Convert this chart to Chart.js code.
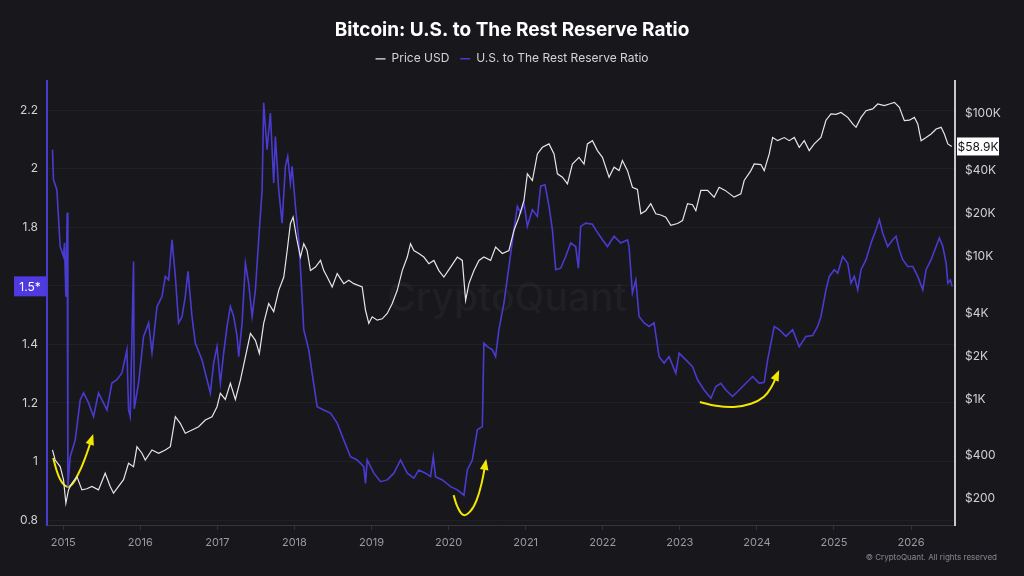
<!DOCTYPE html>
<html>
<head>
<meta charset="utf-8">
<title>Bitcoin: U.S. to The Rest Reserve Ratio</title>
<script src="https://cdn.jsdelivr.net/npm/chart.js@4.4.1/dist/chart.umd.min.js"></script>
<style>
    html, body { margin: 0; padding: 0; background: #17171c; }
    #chart { display: block; }
</style>
</head>
<body>
<canvas id="chart" width="1024" height="576"></canvas>
<script>
    // ratio (left axis)
    var ratioYears = [2014.861, 2014.874, 2014.918, 2014.961, 2015.004, 2015.017, 2015.035, 2015.052, 2015.061, 2015.091,
        2015.156, 2015.221, 2015.264, 2015.329, 2015.394, 2015.458, 2015.568, 2015.632, 2015.697, 2015.762,
        2015.827, 2015.848, 2015.870, 2015.913, 2015.922, 2015.978, 2016.043, 2016.108, 2016.152, 2016.217,
        2016.282, 2016.325, 2016.368, 2016.412, 2016.455, 2016.497, 2016.542, 2016.584, 2016.619, 2016.671,
        2016.714, 2016.801, 2016.866, 2016.909, 2016.952, 2016.996, 2017.039, 2017.082, 2017.126, 2017.169,
        2017.212, 2017.256, 2017.277, 2017.321, 2017.364, 2017.406, 2017.451, 2017.494, 2017.536, 2017.581,
        2017.601, 2017.645, 2017.688, 2017.731, 2017.753, 2017.796, 2017.840, 2017.883, 2017.913, 2017.948,
        2017.970, 2018.013, 2018.056, 2018.087, 2018.121, 2018.186, 2018.230, 2018.295, 2018.381, 2018.468,
        2018.555, 2018.640, 2018.727, 2018.814, 2018.900, 2018.922, 2018.944, 2019.030, 2019.117, 2019.204,
        2019.290, 2019.377, 2019.464, 2019.549, 2019.614, 2019.701, 2019.766, 2019.801, 2019.831, 2019.918,
        2020.026, 2020.113, 2020.199, 2020.243, 2020.308, 2020.373, 2020.438, 2020.458, 2020.503, 2020.568,
        2020.610, 2020.653, 2020.718, 2020.783, 2020.848, 2020.892, 2020.935, 2020.978, 2021.022, 2021.087,
        2021.152, 2021.195, 2021.251, 2021.303, 2021.347, 2021.390, 2021.455, 2021.519, 2021.584, 2021.649,
        2021.684, 2021.714, 2021.779, 2021.866, 2021.909, 2021.996, 2022.061, 2022.147, 2022.234, 2022.321,
        2022.341, 2022.385, 2022.429, 2022.471, 2022.536, 2022.601, 2022.666, 2022.731, 2022.796, 2022.861,
        2022.948, 2022.991, 2023.078, 2023.165, 2023.230, 2023.316, 2023.403, 2023.468, 2023.532, 2023.597,
        2023.684, 2023.770, 2023.857, 2023.944, 2024.030, 2024.095, 2024.139, 2024.182, 2024.225, 2024.290,
        2024.377, 2024.464, 2024.549, 2024.636, 2024.723, 2024.788, 2024.831, 2024.896, 2024.939, 2025.004,
        2025.048, 2025.113, 2025.178, 2025.221, 2025.264, 2025.308, 2025.351, 2025.416, 2025.481, 2025.545,
        2025.588, 2025.632, 2025.697, 2025.762, 2025.805, 2025.848, 2025.892, 2025.957, 2026.022, 2026.087,
        2026.152, 2026.195, 2026.260, 2026.325, 2026.367, 2026.412, 2026.455, 2026.477, 2026.510, 2026.532];
    var ratioValues = [2.065, 1.962, 1.928, 1.734, 1.700, 1.747, 1.563, 1.850, 0.914, 1.016,
        1.073, 1.210, 1.234, 1.200, 1.153, 1.234, 1.176, 1.268, 1.279, 1.302,
        1.381, 1.176, 1.153, 1.683, 1.180, 1.268, 1.427, 1.473, 1.371, 1.529,
        1.563, 1.632, 1.620, 1.757, 1.632, 1.473, 1.495, 1.563, 1.649, 1.495,
        1.404, 1.347, 1.279, 1.234, 1.336, 1.392, 1.268, 1.370, 1.461, 1.529,
        1.495, 1.427, 1.358, 1.473, 1.677, 1.609, 1.495, 1.586, 1.757, 1.928,
        2.225, 2.065, 2.190, 1.951, 2.110, 1.928, 1.814, 2.008, 2.042, 1.951,
        2.008, 1.871, 1.757, 1.620, 1.450, 1.381, 1.301, 1.187, 1.176, 1.165,
        1.131, 1.073, 1.016, 1.005, 0.982, 0.925, 1.005, 0.960, 0.931, 0.937,
        0.960, 1.005, 0.960, 0.943, 0.971, 0.960, 0.948, 1.016, 0.948, 0.937,
        0.914, 0.903, 0.885, 0.971, 1.005, 1.108, 1.119, 1.404, 1.392, 1.381,
        1.358, 1.450, 1.541, 1.666, 1.791, 1.871, 1.849, 1.883, 1.803, 1.860,
        1.837, 1.940, 1.945, 1.871, 1.791, 1.655, 1.660, 1.700, 1.746, 1.734,
        1.660, 1.803, 1.814, 1.810, 1.791, 1.757, 1.734, 1.769, 1.746, 1.757,
        1.734, 1.575, 1.620, 1.495, 1.473, 1.461, 1.473, 1.358, 1.336, 1.358,
        1.301, 1.370, 1.347, 1.324, 1.279, 1.244, 1.216, 1.256, 1.267, 1.244,
        1.222, 1.244, 1.267, 1.290, 1.267, 1.270, 1.347, 1.404, 1.461, 1.450,
        1.427, 1.450, 1.392, 1.427, 1.430, 1.461, 1.495, 1.586, 1.632, 1.655,
        1.643, 1.700, 1.677, 1.609, 1.632, 1.586, 1.655, 1.689, 1.746, 1.791,
        1.826, 1.780, 1.734, 1.757, 1.769, 1.723, 1.689, 1.666, 1.666, 1.632,
        1.586, 1.655, 1.689, 1.734, 1.763, 1.734, 1.677, 1.609, 1.620, 1.598];

    // price USD (right axis, log)
    var priceYears = [2014.861, 2014.896, 2014.961, 2015.004, 2015.035, 2015.069, 2015.113, 2015.178, 2015.243, 2015.307,
        2015.373, 2015.458, 2015.545, 2015.610, 2015.653, 2015.718, 2015.783, 2015.848, 2015.913, 2015.957,
        2016.022, 2016.065, 2016.152, 2016.238, 2016.325, 2016.390, 2016.455, 2016.519, 2016.584, 2016.671,
        2016.757, 2016.844, 2016.931, 2016.996, 2017.039, 2017.104, 2017.169, 2017.234, 2017.299, 2017.364,
        2017.429, 2017.494, 2017.545, 2017.601, 2017.666, 2017.731, 2017.796, 2017.862, 2017.906, 2017.948,
        2017.983, 2018.026, 2018.078, 2018.121, 2018.164, 2018.208, 2018.273, 2018.338, 2018.381, 2018.425,
        2018.490, 2018.555, 2018.640, 2018.705, 2018.770, 2018.879, 2018.922, 2018.965, 2019.009, 2019.074,
        2019.139, 2019.204, 2019.269, 2019.334, 2019.399, 2019.464, 2019.506, 2019.549, 2019.614, 2019.679,
        2019.744, 2019.809, 2019.874, 2019.939, 2020.026, 2020.113, 2020.178, 2020.221, 2020.264, 2020.329,
        2020.394, 2020.458, 2020.545, 2020.610, 2020.697, 2020.783, 2020.848, 2020.913, 2020.978, 2021.022,
        2021.087, 2021.152, 2021.217, 2021.303, 2021.368, 2021.412, 2021.477, 2021.542, 2021.606, 2021.692,
        2021.757, 2021.801, 2021.866, 2021.931, 2021.996, 2022.082, 2022.147, 2022.212, 2022.255, 2022.321,
        2022.385, 2022.450, 2022.494, 2022.558, 2022.623, 2022.688, 2022.753, 2022.818, 2022.883, 2022.970,
        2023.035, 2023.100, 2023.165, 2023.208, 2023.273, 2023.360, 2023.445, 2023.510, 2023.588, 2023.704,
        2023.792, 2023.835, 2023.922, 2023.965, 2024.052, 2024.095, 2024.160, 2024.204, 2024.269, 2024.355,
        2024.420, 2024.485, 2024.549, 2024.614, 2024.679, 2024.744, 2024.831, 2024.896, 2024.961, 2025.026,
        2025.091, 2025.178, 2025.243, 2025.286, 2025.351, 2025.416, 2025.502, 2025.567, 2025.653, 2025.718,
        2025.784, 2025.848, 2025.913, 2025.978, 2026.043, 2026.087, 2026.130, 2026.195, 2026.260, 2026.325,
        2026.390, 2026.432, 2026.477, 2026.528];
    var priceValues = [440, 374, 336, 272, 186, 231, 257, 286, 231, 235,
        244, 231, 302, 244, 219, 244, 272, 355, 336, 464,
        417, 374, 440, 417, 440, 464, 752, 676, 576, 607,
        640, 713, 752, 884, 1096, 993, 1288, 993, 1358, 1977,
        2880, 2580, 2090, 3390, 4670, 4100, 5780, 7160, 11000, 17000,
        18840, 13650, 9890, 12270, 11000, 7950, 8410, 9370, 7950, 7160,
        6100, 7570, 6440, 6800, 6440, 6100, 4190, 3390, 3770, 3570,
        3650, 3980, 4670, 5780, 7950, 9890, 12270, 11000, 10480, 9890,
        8890, 9370, 7950, 7160, 8410, 9890, 9370, 4920, 6440, 7950,
        9370, 9890, 9370, 11620, 10480, 11000, 15200, 18840, 24640, 37900,
        34000, 52200, 58100, 61400, 52200, 37900, 35900, 32200, 44400, 49400,
        44400, 61400, 64700, 55100, 49400, 35900, 42200, 39900, 46900, 39900,
        30500, 29500, 19900, 20900, 23400, 19900, 19500, 18840, 16500, 17000,
        17800, 23400, 23000, 20900, 29000, 29000, 26000, 30500, 29000, 26000,
        27400, 34000, 39900, 44400, 44000, 39900, 52200, 68200, 64700, 68000,
        64700, 68200, 58100, 64700, 55100, 61400, 68200, 90000, 99500, 99000,
        102000, 94200, 84700, 80200, 94200, 105000, 108000, 117000, 114000, 117000,
        120000, 111000, 89300, 90000, 94200, 84700, 64700, 68200, 72100, 78100,
        80200, 72100, 61400, 58900];

    var yearTicks = [2015, 2016, 2017, 2018, 2019, 2020, 2021, 2022, 2023, 2024, 2025, 2026];
    var ratioTicks = [0.8, 1, 1.2, 1.4, 1.6, 1.8, 2, 2.2];
    var priceTicks = [200, 400, 1000, 2000, 4000, 10000, 20000, 40000, 100000];

    // hand drawn yellow arrows, as [year, ratio]
    var arrow2015 = [[2014.870, 1.012], [2014.935, 0.954], [2015.013, 0.920], [2015.091, 0.916], [2015.195, 0.957], [2015.299, 1.022], [2015.377, 1.084]];
    var arrow2020 = [[2020.065, 0.885], [2020.117, 0.844], [2020.195, 0.817], [2020.286, 0.831], [2020.364, 0.868], [2020.429, 0.926], [2020.481, 0.998]];
    var arrow2023 = [[2023.260, 1.203], [2023.468, 1.190], [2023.701, 1.186], [2023.922, 1.197], [2024.091, 1.221], [2024.195, 1.258], [2024.273, 1.303]];

    var currentRatioLabel = '1.5*';
    var currentPriceLabel = '$58.9K';

    var PURPLE = '#4a3bd0';
    var WHITE = '#e6e6ea';
    var YELLOW = '#f3e700';

    function toXY(xs, ys) {
        var out = [];
        for (var i = 0; i < xs.length; i++) out.push({x: xs[i], y: ys[i]});
        return out;
    }
    function pairs(arr) {
        return arr.map(function (p) { return {x: p[0], y: p[1]}; });
    }
    function fmtPrice(v) {
        if (v >= 1000) return '$' + (v / 1000) + 'K';
        return '$' + v;
    }

    function arrowSet(pts) {
        return {
            label: 'arrow',
            data: pairs(pts),
            yAxisID: 'y',
            borderColor: YELLOW,
            borderWidth: 2,
            pointRadius: 0,
            tension: 0.4,
            isArrow: true
        };
    }

    var extrasPlugin = {
        id: 'extras',
        beforeDatasetsDraw: function (chart) {
            var ctx = chart.ctx, a = chart.chartArea;
            ctx.save();
            ctx.font = '500 39px Inter';
            ctx.fillStyle = 'rgba(255,255,255,0.035)';
            ctx.textAlign = 'center';
            ctx.textBaseline = 'middle';
            ctx.fillText('CryptoQuant', (a.left + a.right) / 2 + 6, (a.top + a.bottom) / 2 - 4);
            ctx.restore();
        },
        afterDatasetsDraw: function (chart) {
            var ctx = chart.ctx;
            // arrow heads
            chart.data.datasets.forEach(function (ds, i) {
                if (!ds.isArrow) return;
                var pts = chart.getDatasetMeta(i).data;
                var p = pts[pts.length - 1], q = pts[pts.length - 2];
                var ang = Math.atan2(p.y - q.y, p.x - q.x);
                var L = 9;
                ctx.save();
                ctx.fillStyle = YELLOW;
                ctx.beginPath();
                ctx.moveTo(p.x + Math.cos(ang) * 3, p.y + Math.sin(ang) * 3);
                ctx.lineTo(p.x - Math.cos(ang - 0.5) * L, p.y - Math.sin(ang - 0.5) * L);
                ctx.lineTo(p.x - Math.cos(ang + 0.5) * L, p.y - Math.sin(ang + 0.5) * L);
                ctx.closePath();
                ctx.fill();
                ctx.restore();
            });
        },
        afterDraw: function (chart) {
            var ctx = chart.ctx;
            var yL = chart.scales.y, yR = chart.scales.y1;
            ctx.save();
            // current ratio marker
            var ry = yL.getPixelForValue(ratioValues[ratioValues.length - 1]);
            ctx.fillStyle = '#4f3ae0';
            ctx.fillRect(14, ry - 10, 32, 20);
            ctx.fillStyle = '#ffffff';
            ctx.font = '12px Inter';
            ctx.textAlign = 'center';
            ctx.textBaseline = 'middle';
            ctx.fillText(currentRatioLabel, 30, ry + 1);
            // current price marker
            var py = yR.getPixelForValue(priceValues[priceValues.length - 1]);
            ctx.fillStyle = '#ffffff';
            ctx.fillRect(957, py - 9, 42, 18);
            ctx.fillStyle = '#111111';
            ctx.fillText(currentPriceLabel, 978, py + 1);
            // copyright
            ctx.font = '8px Inter';
            ctx.fillStyle = '#8a8a92';
            ctx.textAlign = 'right';
            ctx.fillText('\u00a9 CryptoQuant. All rights reserved', 997, 558);
            ctx.restore();
        }
    };

    var ctx = document.getElementById('chart').getContext('2d');
    Chart.defaults.font.family = 'Inter';
    Chart.defaults.color = '#cfcfd4';

    new Chart(ctx, {
        type: 'line',
        data: {
            datasets: [
                {
                    label: 'Price USD',
                    data: toXY(priceYears, priceValues),
                    yAxisID: 'y1',
                    borderColor: WHITE,
                    backgroundColor: WHITE,
                    borderWidth: 1.2,
                    pointRadius: 0,
                    tension: 0
                },
                {
                    label: 'U.S. to The Rest Reserve Ratio',
                    data: toXY(ratioYears, ratioValues),
                    yAxisID: 'y',
                    borderColor: PURPLE,
                    backgroundColor: PURPLE,
                    borderWidth: 1.6,
                    pointRadius: 0,
                    tension: 0
                },
                arrowSet(arrow2015),
                arrowSet(arrow2020),
                arrowSet(arrow2023)
            ]
        },
        options: {
            responsive: false,
            animation: false,
            devicePixelRatio: 1,
            layout: {padding: {top: 0, left: 0, right: 0, bottom: 0}},
            plugins: {
                title: {
                    display: true,
                    text: 'Bitcoin: U.S. to The Rest Reserve Ratio',
                    color: '#ffffff',
                    font: {size: 19, weight: '700', lineHeight: 1.2},
                    padding: {top: 19, bottom: 0}
                },
                // empty spacer under the legend
                subtitle: {
                    display: true,
                    text: '',
                    weight: 500,
                    font: {size: 1, lineHeight: 1},
                    padding: {top: 5, bottom: 0}
                },
                legend: {
                    display: true,
                    labels: {
                        color: '#d4d4d8',
                        font: {size: 12},
                        usePointStyle: true,
                        pointStyle: 'line',
                        boxHeight: 7,
                        pointStyleWidth: 10,
                        padding: 11,
                        filter: function (item, data) { return !data.datasets[item.datasetIndex].isArrow; }
                    }
                },
                tooltip: {enabled: false}
            },
            scales: {
                x: {
                    type: 'linear',
                    min: 2014.79,
                    max: 2026.57,
                    afterBuildTicks: function (s) { s.ticks = yearTicks.map(function (v) { return {value: v}; }); },
                    afterFit: function (s) { s.height = 51; },
                    ticks: {
                        color: '#9a9aa2',
                        font: {size: 11},
                        padding: 6,
                        maxRotation: 0,
                        callback: function (v) { return String(v); }
                    },
                    grid: {drawOnChartArea: false, color: 'rgba(255,255,255,0.12)', tickLength: 5},
                    border: {color: '#34343a', width: 1}
                },
                y: {
                    type: 'linear',
                    position: 'left',
                    min: 0.783,
                    max: 2.30,
                    afterBuildTicks: function (s) { s.ticks = ratioTicks.map(function (v) { return {value: v}; }); },
                    afterFit: function (s) { s.width = 47; },
                    ticks: {
                        color: '#d0d0d6',
                        font: {size: 12},
                        padding: 9,
                        callback: function (v) { return v === 1.6 ? '' : String(v); }
                    },
                    grid: {color: 'rgba(255,255,255,0.045)', drawTicks: false},
                    border: {color: PURPLE, width: 2}
                },
                y1: {
                    type: 'logarithmic',
                    position: 'right',
                    min: 131,
                    max: 170000,
                    afterBuildTicks: function (s) { s.ticks = priceTicks.map(function (v) { return {value: v}; }); },
                    afterFit: function (s) { s.width = 69; },
                    ticks: {
                        color: '#d0d0d6',
                        font: {size: 12},
                        padding: 10,
                        callback: function (v) { return fmtPrice(v); }
                    },
                    grid: {display: false, drawTicks: false},
                    border: {color: '#c8c8cc', width: 2}
                }
            }
        },
        plugins: [extrasPlugin]
    });
</script>
</body>
</html>
